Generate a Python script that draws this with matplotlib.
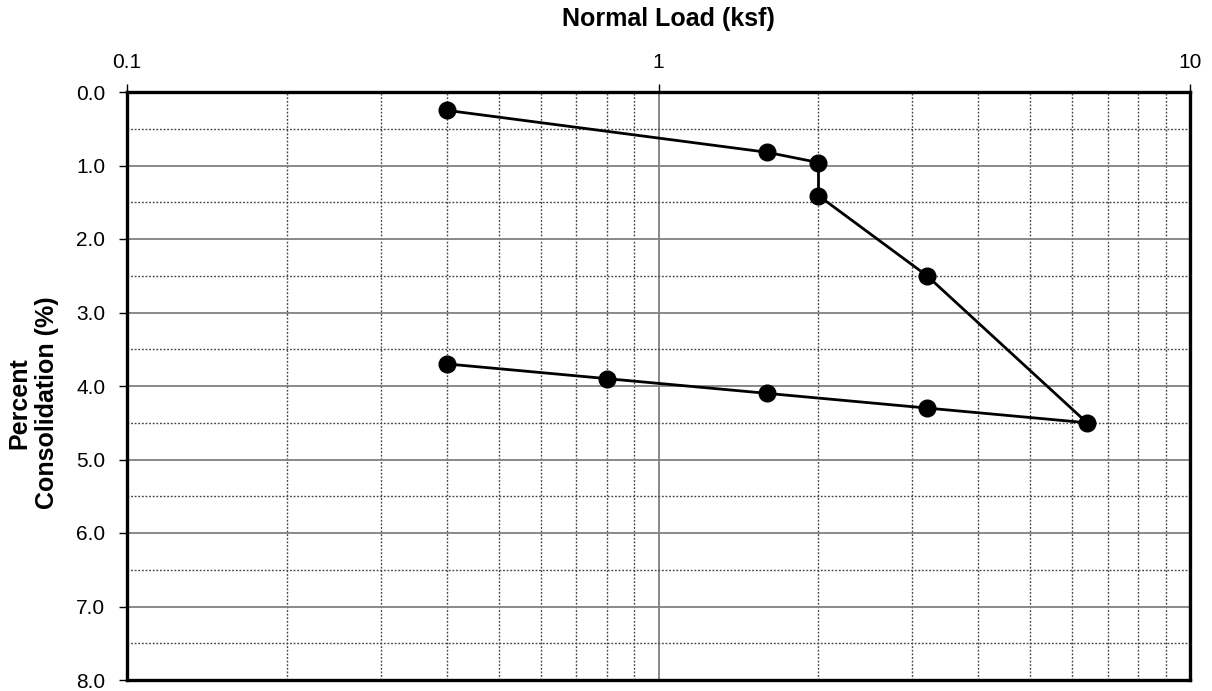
import numpy as np
import matplotlib
matplotlib.use("Agg")
import matplotlib.pyplot as plt
from matplotlib.ticker import LogLocator, FixedLocator, FuncFormatter, NullFormatter, MultipleLocator

plt.rcParams['font.family'] = ['Liberation Sans', 'DejaVu Sans']

load_ksf = [0.4, 1.6, 2.0, 2.0, 3.2, 6.4, 3.2, 1.6, 0.8, 0.4]
consolidation = [0.25, 0.82, 0.96, 1.41, 2.5, 4.5, 4.3, 4.1, 3.9, 3.7]

x_ticks = [0.1, 1, 10]
y_ticks = [0.0, 1.0, 2.0, 3.0, 4.0, 5.0, 6.0, 7.0, 8.0]

W, H = 1212, 691
fig = plt.figure(figsize=(W / 100, H / 100), dpi=100)
ax = fig.add_axes([127 / W, 1 - 680 / H, (1190 - 127) / W, (680 - 92) / H])
ax.set_xscale('log')
ax.set_xlim(0.1, 10)
ax.set_ylim(8, 0)

ax.xaxis.set_major_locator(FixedLocator(x_ticks))
ax.xaxis.set_minor_locator(LogLocator(base=10, subs=np.arange(2, 10)))
ax.xaxis.set_minor_formatter(NullFormatter())
ax.xaxis.set_major_formatter(FuncFormatter(lambda v, p: f"{v:g}"))
ax.yaxis.set_major_locator(FixedLocator(y_ticks))
ax.yaxis.set_minor_locator(MultipleLocator(0.5))
ax.yaxis.set_major_formatter(FuncFormatter(lambda v, p: f"{v:.1f}"))

ax.grid(True, which='major', color='#808080', linewidth=1.3, linestyle='-')
ax.grid(True, which='minor', color='#444444', linewidth=1.0, linestyle=(0, (1.3, 1.3)))
ax.set_axisbelow(True)

ax.xaxis.tick_top()
ax.tick_params(axis='both', which='major', direction='out', length=6, width=1,
               labelsize=15, colors='black')
ax.tick_params(axis='y', which='major', pad=9.6)
ax.tick_params(axis='x', which='major', pad=8.6)
ax.tick_params(axis='both', which='minor', length=0)

for s in ax.spines.values():
    s.set_linewidth(2.4)
    s.set_color('black')

ax.plot(load_ksf, consolidation, color='black', linewidth=2.0, zorder=3,
        marker='o', markersize=12, markerfacecolor='black', markeredgecolor='black')

fig.text(668 / W, 1 - 19 / H, 'Normal Load (ksf)', fontsize=18, fontweight='bold',
         ha='center', va='center')
fig.text(33 / W, 1 - 403 / H, 'Percent\nConsolidation (%)', fontsize=18, fontweight='bold',
         ha='center', va='center', rotation=90, linespacing=1.2, multialignment='center')

fig.savefig('out.png', dpi=100)
